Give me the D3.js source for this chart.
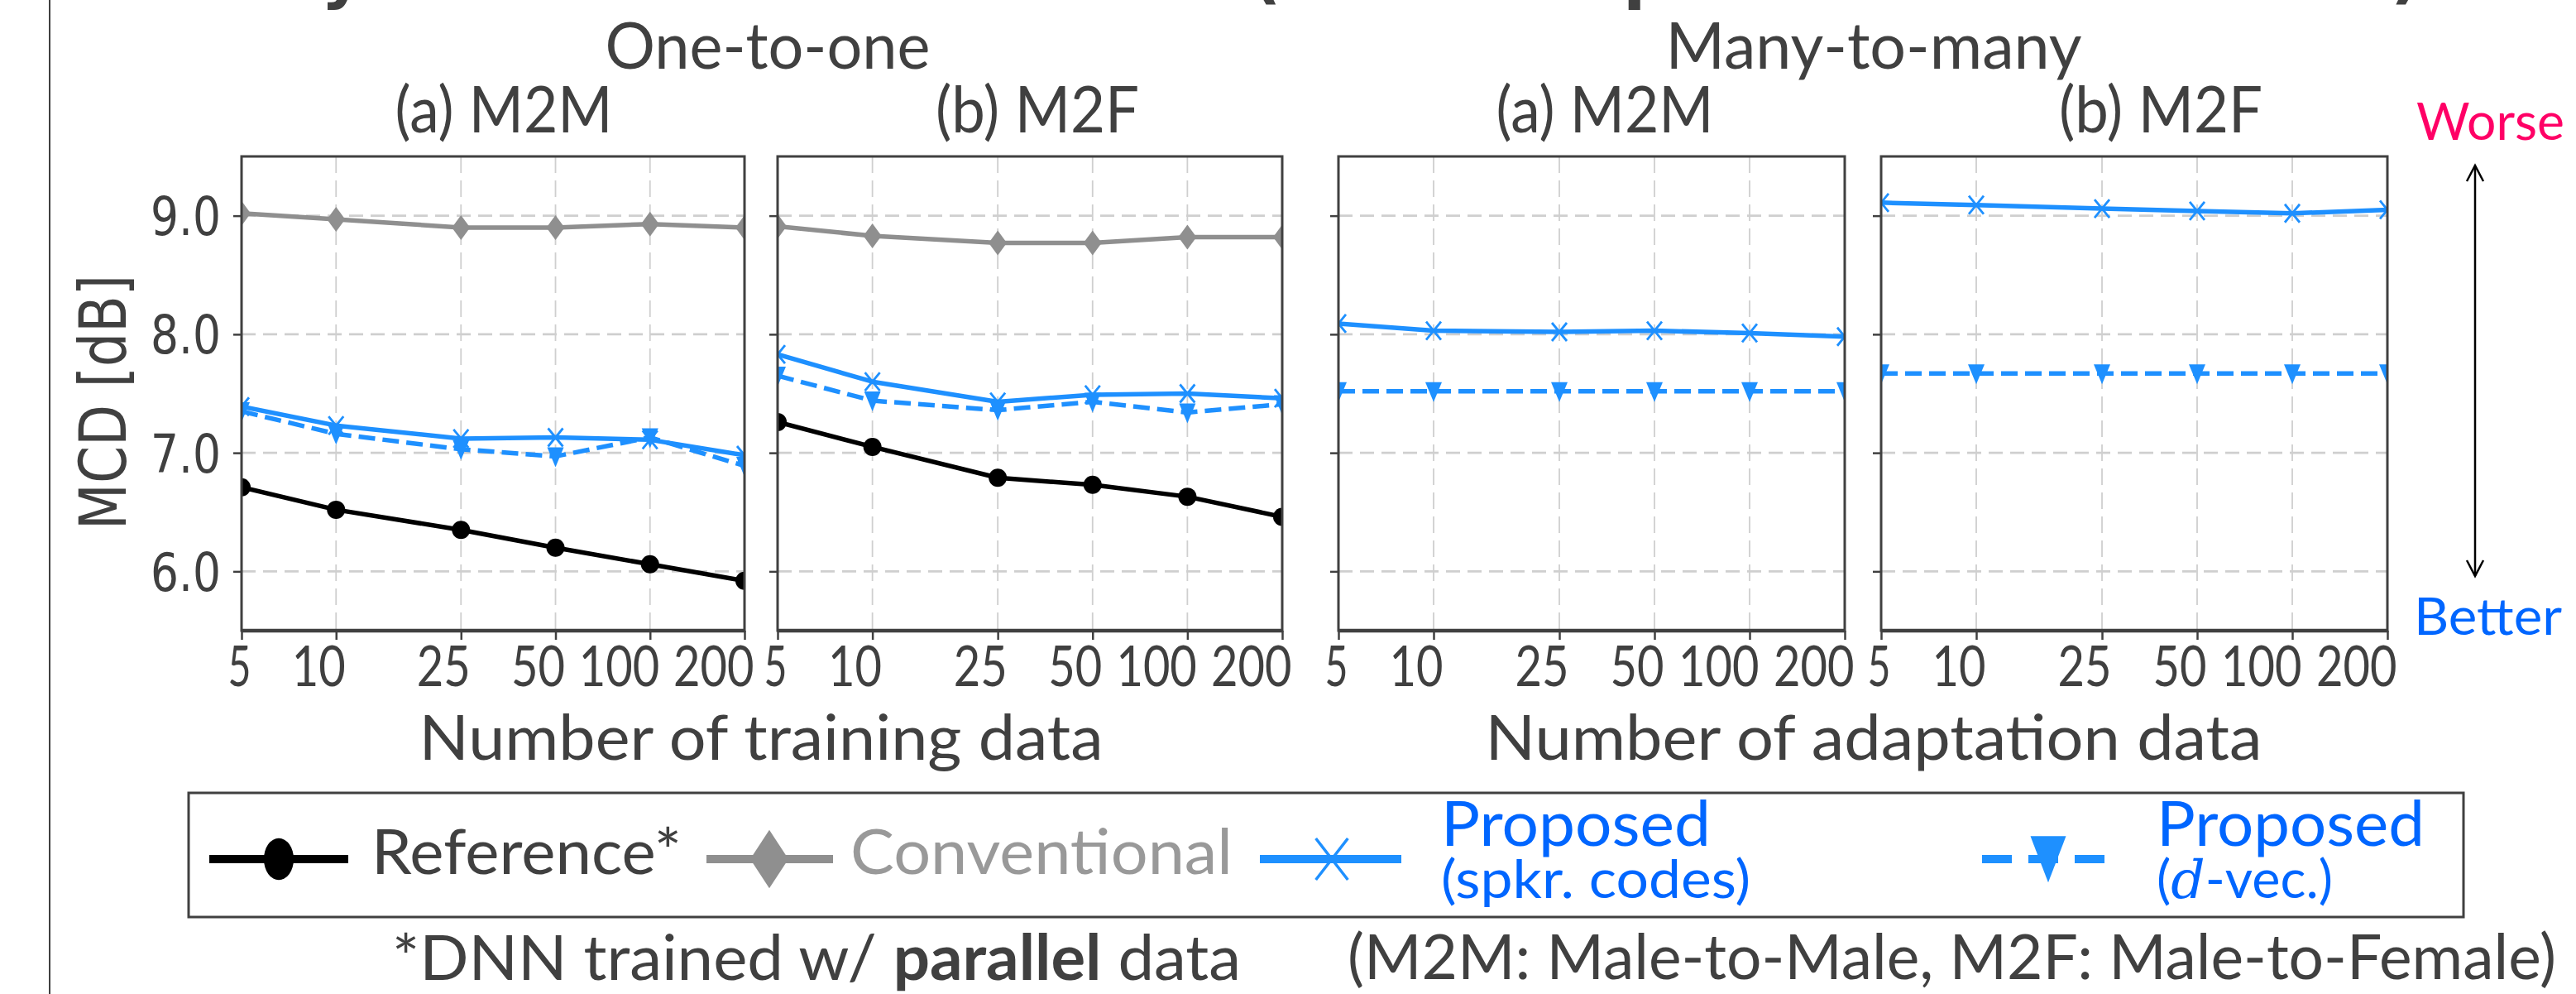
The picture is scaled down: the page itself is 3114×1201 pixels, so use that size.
<!DOCTYPE html>
<html><head><meta charset="utf-8">
<script src="https://cdn.jsdelivr.net/npm/d3@7"></script>
<style>body{margin:0;background:#fff} svg{display:block}</style>
</head><body>
<svg id="chart" width="3114" height="1201"></svg>
<script>
// ---------------- data ----------------
const xValues = [5, 10, 25, 50, 100, 200];
const xTickLabels = ["5", "10", "25", "50", "100", "200"];
const yTicks = [6.0, 7.0, 8.0, 9.0];
const groupTitles = ["One-to-one", "Many-to-many"];
const panelTitles = ["(a) M2M", "(b) M2F", "(a) M2M", "(b) M2F"];
const xAxisTitles = ["Number of training data", "Number of adaptation data"];
const yAxisTitle = "MCD [dB]";
const seriesNames = ["Reference*", "Conventional", "Proposed", "Proposed"];
const seriesSubNames = ["", "", "(spkr. codes)", "-vec."];

// One-to-one, M2M
const o2oM2M_reference    = [6.71, 6.52, 6.35, 6.20, 6.06, 5.92];
const o2oM2M_conventional = [9.02, 8.97, 8.90, 8.90, 8.93, 8.90];
const o2oM2M_spkrCodes    = [7.39, 7.23, 7.12, 7.13, 7.11, 6.98];
const o2oM2M_dVec         = [7.35, 7.16, 7.03, 6.97, 7.13, 6.89];
// One-to-one, M2F
const o2oM2F_reference    = [7.26, 7.05, 6.79, 6.73, 6.63, 6.46];
const o2oM2F_conventional = [8.91, 8.83, 8.77, 8.77, 8.82, 8.82];
const o2oM2F_spkrCodes    = [7.83, 7.60, 7.43, 7.49, 7.50, 7.46];
const o2oM2F_dVec         = [7.65, 7.44, 7.36, 7.43, 7.34, 7.41];
// Many-to-many, M2M
const m2mM2M_spkrCodes    = [8.09, 8.03, 8.02, 8.03, 8.01, 7.98];
const m2mM2M_dVec         = [7.52, 7.52, 7.52, 7.52, 7.52, 7.52];
// Many-to-many, M2F
const m2mM2F_spkrCodes    = [9.11, 9.09, 9.06, 9.04, 9.02, 9.05];
const m2mM2F_dVec         = [7.67, 7.67, 7.67, 7.67, 7.67, 7.67];

const footnoteLeft = ["*DNN trained w/ ", "parallel", " data"];
const footnoteRight = "(M2M: Male-to-Male, M2F: Male-to-Female)";

// ---------------- layout / style ----------------
const FONT = "Lato, 'Open Sans', sans-serif";
const FONT_DV = "'DejaVu Sans', sans-serif";
const TXT = "#404040";
const BLUE = "#1E90FF";
const TXT_BLUE = "#0066FF";
const PINK = "#FF0066";
const GRAY = "#8f8f8f";
const plotTop = 189, plotBottom = 762;
const panelsLayout = [
  {left: 292, right: 900, titleX: 609},
  {left: 940, right: 1550, titleX: 1254},
  {left: 1618, right: 2230, titleX: 1940},
  {left: 2274, right: 2886, titleX: 2612}
];
const seriesStyle = {
  ref:  {color: "#000000", dash: null, marker: "circle"},
  conv: {color: GRAY, dash: null, marker: "diamond"},
  spkr: {color: BLUE, dash: null, marker: "x"},
  dvec: {color: BLUE, dash: "20,9", marker: "tri"}
};
const panelSeries = [
  [["ref", o2oM2M_reference], ["conv", o2oM2M_conventional], ["spkr", o2oM2M_spkrCodes], ["dvec", o2oM2M_dVec]],
  [["ref", o2oM2F_reference], ["conv", o2oM2F_conventional], ["spkr", o2oM2F_spkrCodes], ["dvec", o2oM2F_dVec]],
  [["spkr", m2mM2M_spkrCodes], ["dvec", m2mM2M_dVec]],
  [["spkr", m2mM2F_spkrCodes], ["dvec", m2mM2F_dVec]]
];

const svg = d3.select("#chart");

function txt(g, o) {
  const t = g.append("text")
    .attr("x", o.x).attr("y", o.y)
    .attr("font-family", o.family || FONT)
    .attr("font-size", o.size)
    .attr("fill", o.fill || TXT)
    .attr("text-anchor", o.anchor || "start");
  if (o.weight) t.attr("font-weight", o.weight);
  if (o.width) t.attr("textLength", o.width).attr("lengthAdjust", "spacingAndGlyphs");
  if (o.transform) t.attr("transform", o.transform);
  if (o.text !== undefined) t.text(o.text);
  return t;
}

function markerPath(kind) {
  if (kind === "diamond") return "M0,-15L11,0L0,15L-11,0Z";
  if (kind === "tri") return "M-10,-11L10,-11L0,13Z";
  if (kind === "x") return "M-9,-11L9,11M9,-11L-9,11";
  return null;
}
function drawMarker(g, kind, color, cx, cy, s, sy) {
  sy = sy || s;
  if (kind === "circle") {
    g.append("ellipse").attr("cx", cx).attr("cy", cy).attr("rx", 11*s).attr("ry", 11*sy).attr("fill", color);
  } else if (kind === "x") {
    g.append("path").attr("d", markerPath(kind))
      .attr("transform", `translate(${cx},${cy}) scale(${s},${sy})`)
      .attr("fill", "none").attr("stroke", color).attr("stroke-width", s > 1 ? 3.5 : 2.8)
      .attr("vector-effect", "non-scaling-stroke");
  } else {
    g.append("path").attr("d", markerPath(kind))
      .attr("transform", `translate(${cx},${cy}) scale(${s},${sy})`)
      .attr("fill", color);
  }
}

// ---------------- cut-off title (only descenders visible) ----------------
const titleG = svg.append("g");
[["y", 388], ["(", 1512], ["p", 1962], [")", 2890]].forEach(([ch, xx]) => {
  txt(titleG, {x: xx, y: -5, text: ch, size: 80, weight: "bold", family: FONT_DV, fill: TXT});
});

// left frame line
svg.append("line").attr("x1", 60).attr("x2", 60).attr("y1", 0).attr("y2", 1201)
  .attr("stroke", TXT).attr("stroke-width", 2);

// group titles
txt(svg, {x: 928, y: 83, text: groupTitles[0], size: 78, anchor: "middle", width: 393});
txt(svg, {x: 2265, y: 83, text: groupTitles[1], size: 78, anchor: "middle", width: 503});

const y = d3.scaleLinear().domain([5.5, 9.5]).range([plotBottom, plotTop]);

panelsLayout.forEach((p, pi) => {
  const x = d3.scaleLog().domain([5, 200]).range([p.left, p.right]);
  const g = svg.append("g");
  const clipId = "clip" + pi;
  svg.append("clipPath").attr("id", clipId).append("rect")
    .attr("x", p.left).attr("y", plotTop).attr("width", p.right - p.left).attr("height", plotBottom - plotTop);

  // title
  txt(g, {x: p.titleX, y: 160, text: panelTitles[pi], size: 77, anchor: "middle", width: pi % 2 === 0 ? 263 : 246});

  // grid
  g.append("g").selectAll("line").data(xValues.slice(1, -1)).join("line")
    .attr("x1", d => x(d)).attr("x2", d => x(d)).attr("y1", plotTop).attr("y2", plotBottom)
    .attr("stroke", "#cfcfcf").attr("stroke-width", 1.8).attr("stroke-dasharray", "20,9");
  g.append("g").selectAll("line").data(yTicks).join("line")
    .attr("x1", p.left).attr("x2", p.right).attr("y1", d => y(d)).attr("y2", d => y(d))
    .attr("stroke", "#cfcfcf").attr("stroke-width", 2.6).attr("stroke-dasharray", "17,9");

  // series
  const sg = g.append("g").attr("clip-path", `url(#${clipId})`);
  panelSeries[pi].forEach(([key, vals]) => {
    const st = seriesStyle[key];
    const line = d3.line().x((d, i) => x(xValues[i])).y(d => y(d));
    sg.append("path").datum(vals).attr("d", line)
      .attr("fill", "none").attr("stroke", st.color).attr("stroke-width", 5.5)
      .attr("stroke-linejoin", "round")
      .attr("stroke-dasharray", st.dash);
    vals.forEach((v, i) => drawMarker(sg, st.marker, st.color, x(xValues[i]), y(v), 1));
  });

  // frame
  g.append("rect").attr("x", p.left).attr("y", plotTop).attr("width", p.right - p.left).attr("height", plotBottom - plotTop)
    .attr("fill", "none").attr("stroke", TXT).attr("stroke-width", 3);
  g.append("line").attr("x1", p.left).attr("x2", p.right).attr("y1", plotBottom).attr("y2", plotBottom)
    .attr("stroke", TXT).attr("stroke-width", 4.5);

  // bottom axis
  const xa = g.append("g").attr("transform", `translate(0,${plotBottom})`)
    .call(d3.axisBottom(x).tickValues(xValues).tickFormat((d, i) => xTickLabels[i]).tickSize(11).tickSizeOuter(0));
  xa.select(".domain").remove();
  xa.selectAll(".tick line").attr("stroke", TXT).attr("stroke-width", 2.5);
  xa.selectAll(".tick text")
    .attr("font-family", FONT).attr("font-size", 67).attr("fill", TXT)
    .attr("text-anchor", "end").attr("x", 11).attr("y", 67).attr("dy", null)
    .attr("textLength", (d, i) => xTickLabels[i].length === 1 ? 28 : xTickLabels[i].length * 32.5)
    .attr("lengthAdjust", "spacingAndGlyphs");

  // left axis
  const ya = g.append("g").attr("transform", `translate(${p.left},0)`)
    .call(d3.axisLeft(y).tickValues(yTicks).tickFormat(d3.format(".1f")).tickSize(10).tickSizeOuter(0));
  ya.select(".domain").remove();
  ya.selectAll(".tick line").attr("stroke", TXT).attr("stroke-width", 2.5);
  if (pi === 0) {
    ya.selectAll(".tick text")
      .attr("font-family", FONT_DV).attr("font-size", 64).attr("fill", TXT)
      .attr("x", -25).attr("dy", "0.36em")
      .attr("textLength", 85).attr("lengthAdjust", "spacingAndGlyphs");
  } else {
    ya.selectAll(".tick text").remove();
  }
});

// y axis title
txt(svg, {x: 0, y: 0, text: yAxisTitle, size: 78, family: FONT_DV, anchor: "middle", width: 308,
  transform: "translate(152,486) rotate(-90)"});

// x axis titles
txt(svg, {x: 920, y: 918, text: xAxisTitles[0], size: 75, anchor: "middle", width: 827});
txt(svg, {x: 2265, y: 918, text: xAxisTitles[1], size: 75, anchor: "middle", width: 939});

// Worse / Better + arrow
txt(svg, {x: 2921, y: 169, text: "Worse", size: 62, fill: PINK, width: 179});
txt(svg, {x: 2918, y: 767, text: "Better", size: 62, fill: TXT_BLUE, width: 179});
const ag = svg.append("g").attr("stroke", "#000").attr("stroke-width", 2.5).attr("fill", "none");
ag.append("line").attr("x1", 2992).attr("x2", 2992).attr("y1", 200).attr("y2", 696);
ag.append("path").attr("d", "M2982,219L2992,200L3002,219");
ag.append("path").attr("d", "M2982,677L2992,696L3002,677");

// ---------------- legend ----------------
const lg = svg.append("g");
lg.append("rect").attr("x", 228).attr("y", 958).attr("width", 2750).attr("height", 150)
  .attr("fill", "#fff").attr("stroke", TXT).attr("stroke-width", 3);
const ly = 1038;
const legendItems = [
  {key: "ref",  x1: 253, x2: 421, mx: 337, tx: 449, tw: 375},
  {key: "conv", x1: 854, x2: 1007, mx: 930, tx: 1028, tw: 462},
  {key: "spkr", x1: 1523, x2: 1694, mx: 1610, tx: 1742, tw: 326},
  {key: "dvec", x1: 2396, x2: 2555, mx: 2476, tx: 2607, tw: 324}
];
legendItems.forEach((it, i) => {
  const st = seriesStyle[it.key];
  lg.append("line").attr("x1", it.x1).attr("x2", it.x2).attr("y1", ly).attr("y2", ly)
    .attr("stroke", st.color).attr("stroke-width", 10)
    .attr("stroke-dasharray", st.dash ? "36,20" : null);
  if (st.marker === "circle") drawMarker(lg, "circle", st.color, it.mx, ly, 1.64, 2.3);
  else if (st.marker === "diamond") drawMarker(lg, "diamond", st.color, it.mx, ly, 2.1, 2.35);
  else if (st.marker === "x") drawMarker(lg, "x", st.color, it.mx, ly, 2.15, 2.27);
  else drawMarker(lg, "tri", st.color, it.mx, ly - 2, 2.15, 2.33);
  if (i < 2) {
    txt(lg, {x: it.tx, y: 1056, text: seriesNames[i], size: 76, fill: i === 0 ? TXT : "#999999", width: it.tw});
  } else {
    txt(lg, {x: it.tx, y: 1022, text: seriesNames[i], size: 76, fill: TXT_BLUE, width: it.tw});
  }
});
txt(lg, {x: 1742, y: 1085, text: seriesSubNames[2], size: 64, fill: TXT_BLUE, width: 374});
const dv = txt(lg, {x: 2607, y: 1085, size: 64, fill: TXT_BLUE, width: 213});
dv.append("tspan").text("(");
dv.append("tspan").attr("font-family", "'DejaVu Serif', serif").attr("font-style", "italic").text("d");
dv.append("tspan").text(seriesSubNames[3] + ")");

// ---------------- footnotes ----------------
const f1 = txt(svg, {x: 474, y: 1184, size: 76, width: 1026});
f1.append("tspan").text(footnoteLeft[0]);
f1.append("tspan").attr("font-weight", "bold").text(footnoteLeft[1]);
f1.append("tspan").text(footnoteLeft[2]);
txt(svg, {x: 1629, y: 1183, text: footnoteRight, size: 76, width: 1461});
</script>
</body></html>
